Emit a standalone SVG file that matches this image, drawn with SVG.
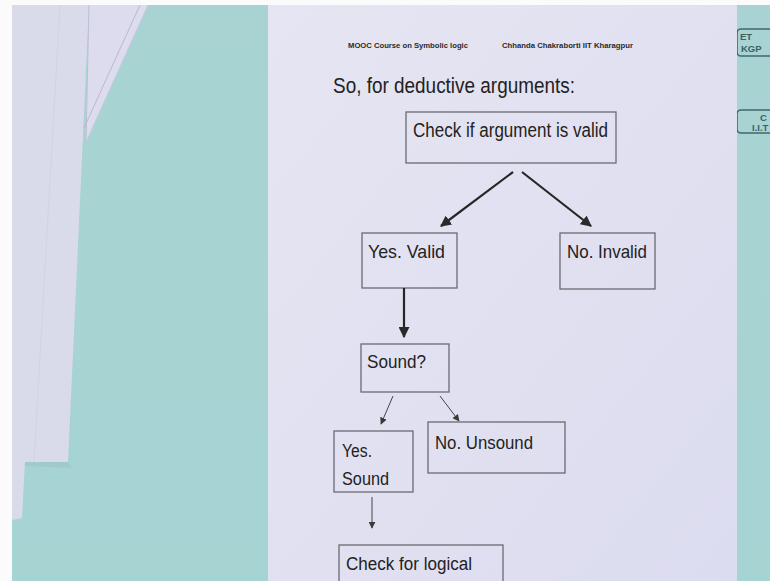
<svg xmlns="http://www.w3.org/2000/svg" width="770" height="581" viewBox="0 0 770 581">
<defs>
<linearGradient id="paperG" x1="0" y1="0" x2="1" y2="1">
<stop offset="0" stop-color="#e6e5f2"/>
<stop offset="1" stop-color="#dcdcf0"/>
</linearGradient>
<linearGradient id="tealG" x1="0" y1="0" x2="0" y2="1">
<stop offset="0" stop-color="#a9d3d3"/>
<stop offset="1" stop-color="#a6d4d3"/>
</linearGradient>
<marker id="ah" viewBox="0 0 10 10" refX="9" refY="5" markerWidth="5" markerHeight="5" orient="auto" markerUnits="strokeWidth">
<path d="M0,0 L10,5 L0,10 z" fill="#2a2a2a"/>
</marker>
<marker id="ahs" viewBox="0 0 10 10" refX="9" refY="5" markerWidth="7" markerHeight="7" orient="auto" markerUnits="strokeWidth">
<path d="M0,0 L10,5 L0,10 z" fill="#3a3a3a"/>
</marker>
<clipPath id="rightClip"><rect x="737" y="0" width="33" height="581"/></clipPath>
</defs>
<style>
.box{fill:none;stroke:#6a6a72;stroke-width:1.3}
.t{font-family:"Liberation Sans",Arial,sans-serif;fill:#222}
.hdr{font-family:"Liberation Sans",Arial,sans-serif;font-weight:bold;font-size:8px;fill:#2a2a2a}
.thick{stroke:#262626;stroke-width:2.2;fill:none}
.thin{stroke:#444;stroke-width:1;fill:none}
.logo{fill:none;stroke:#3e6870;stroke-width:1.6}
.lt{font-family:"Liberation Sans",Arial,sans-serif;font-weight:bold;font-size:9.5px;fill:#3a6168}
</style>
<!-- background -->
<rect x="0" y="0" width="770" height="581" fill="#fbfbfb"/>
<rect x="12" y="5" width="758" height="576" fill="url(#tealG)"/>
<!-- left sheets -->
<polygon points="12,5 89,5 68,462 25,462 22,518 12,520" fill="#d9dbea"/>
<polygon points="68,462 25,462 25,466 72,468" fill="#9cc4c4" opacity="0.6"/>
<polygon points="89,5 148,5 86,142 87,90" fill="#dcdcee"/>
<line x1="89" y1="5" x2="86" y2="142" stroke="#bfc0d2" stroke-width="1"/>
<line x1="140" y1="5" x2="84" y2="128" stroke="#b8b9cc" stroke-width="1"/>
<line x1="148" y1="5" x2="86" y2="142" stroke="#c9cadc" stroke-width="1"/>
<line x1="60" y1="5" x2="34" y2="462" stroke="#cfd1e0" stroke-width="0.8"/>
<!-- paper -->
<rect x="268" y="5" width="469" height="576" fill="url(#paperG)"/>
<!-- right logos -->
<g id="logos" clip-path="url(#rightClip)">
<rect class="logo" x="737" y="29" width="40" height="27" rx="4"/>
<text class="lt" x="740" y="40">ET</text>
<text class="lt" x="741" y="52">KGP</text>
<rect class="logo" x="737" y="110" width="40" height="23" rx="4"/>
<text class="lt" x="760" y="121">C</text>
<text class="lt" x="752" y="131">I.I.T</text>
</g>
<!-- header -->
<text class="hdr" x="348" y="48" textLength="120" lengthAdjust="spacingAndGlyphs">MOOC Course on Symbolic logic</text>
<text class="hdr" x="502" y="48" textLength="131" lengthAdjust="spacingAndGlyphs">Chhanda Chakraborti IIT Kharagpur</text>
<text class="t" x="333" y="93" font-size="22" textLength="242" lengthAdjust="spacingAndGlyphs">So, for deductive arguments:</text>
<!-- nodes -->
<g id="n-check-valid">
<rect class="box" x="406" y="112" width="210" height="51"/>
<text class="t" x="413" y="137" font-size="20" textLength="195" lengthAdjust="spacingAndGlyphs">Check if argument is valid</text>
</g>
<g id="n-yes-valid">
<rect class="box" x="362" y="233" width="95" height="55"/>
<text class="t" x="368" y="258" font-size="19" textLength="77" lengthAdjust="spacingAndGlyphs">Yes. Valid</text>
</g>
<g id="n-no-invalid">
<rect class="box" x="560" y="233" width="95" height="56"/>
<text class="t" x="567" y="258" font-size="19" textLength="80" lengthAdjust="spacingAndGlyphs">No. Invalid</text>
</g>
<g id="n-sound">
<rect class="box" x="361" y="344" width="88" height="48"/>
<text class="t" x="367" y="368" font-size="18" textLength="59" lengthAdjust="spacingAndGlyphs">Sound?</text>
</g>
<g id="n-yes-sound">
<rect class="box" x="334" y="431" width="79" height="61"/>
<text class="t" x="342" y="457" font-size="18" textLength="30" lengthAdjust="spacingAndGlyphs">Yes.</text>
<text class="t" x="342" y="485" font-size="18" textLength="47" lengthAdjust="spacingAndGlyphs">Sound</text>
</g>
<g id="n-no-unsound">
<rect class="box" x="428" y="422" width="137" height="51"/>
<text class="t" x="435" y="449" font-size="18" textLength="98" lengthAdjust="spacingAndGlyphs">No. Unsound</text>
</g>
<g id="n-check-logical">
<rect class="box" x="339" y="545" width="164" height="50"/>
<text class="t" x="346" y="570" font-size="18" textLength="126" lengthAdjust="spacingAndGlyphs">Check for logical</text>
</g>
<!-- connectors -->
<g id="connectors">
<line class="thick" x1="513" y1="172" x2="441" y2="226" marker-end="url(#ah)"/>
<line class="thick" x1="522" y1="172" x2="591" y2="226" marker-end="url(#ah)"/>
<line class="thick" x1="404" y1="288" x2="404" y2="337" marker-end="url(#ah)"/>
<line class="thin" x1="393" y1="396" x2="381" y2="424" marker-end="url(#ahs)"/>
<line class="thin" x1="440" y1="396" x2="459" y2="421" marker-end="url(#ahs)"/>
<line class="thin" x1="372" y1="497" x2="372" y2="528" marker-end="url(#ahs)"/>
</g>
</svg>
